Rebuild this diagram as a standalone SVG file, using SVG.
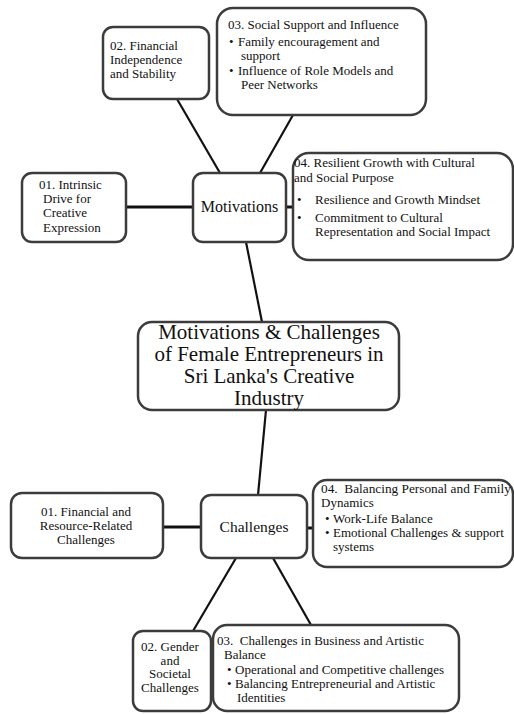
<svg xmlns="http://www.w3.org/2000/svg" width="514" height="714" viewBox="0 0 514 714">
<style>
.box{fill:#fff;stroke:#3c3c3c;stroke-width:2.5}
.t{font-size:13px;fill:#111}
.c{text-anchor:middle}
.big{font-size:21px}
.mid{font-size:16px}
.con line{stroke:#111;stroke-width:2.2}
.con .h{stroke-width:3}
</style>
<rect width="514" height="714" fill="#fff"/>
<g class="con" id="connectors">
<line x1="177" y1="99" x2="220" y2="173"/>
<line x1="293" y1="115" x2="260" y2="173"/>
<line class="h" x1="126" y1="207" x2="193" y2="207"/>
<line class="h" x1="286" y1="207" x2="293" y2="207"/>
<line x1="246" y1="242" x2="262" y2="322"/>
<line x1="266" y1="410" x2="258" y2="495"/>
<line class="h" x1="163" y1="527" x2="201" y2="527"/>
<line class="h" x1="307" y1="528" x2="313" y2="528"/>
<line x1="236" y1="558" x2="193" y2="631"/>
<line x1="273" y1="558" x2="311" y2="625"/>
</g>
<g font-family="Liberation Serif, Times New Roman, serif">
<g id="m02">
<rect class="box" x="103" y="27" width="106" height="72" rx="10"/>
<text class="t" x="110" y="50">02. Financial</text>
<text class="t" x="110" y="64">Independence</text>
<text class="t" x="110" y="78">and Stability</text>
</g>
<g id="m03">
<rect class="box" x="217" y="8" width="209" height="107" rx="16"/>
<text class="t" x="228" y="29">03. Social Support and Influence</text>
<text class="t" x="229" y="46">•</text>
<text class="t" x="238" y="46">Family encouragement and</text>
<text class="t" x="241" y="60">support</text>
<text class="t" x="229" y="75">•</text>
<text class="t" x="238" y="75">Influence of Role Models and</text>
<text class="t" x="241" y="89">Peer Networks</text>
</g>
<g id="m01">
<rect class="box" x="22" y="173" width="104" height="69" rx="10"/>
<text class="t" x="39" y="189">01. Intrinsic</text>
<text class="t" x="43" y="203">Drive for</text>
<text class="t" x="43" y="217">Creative</text>
<text class="t" x="43" y="232">Expression</text>
</g>
<g id="motivations">
<rect class="box" x="193" y="173" width="93" height="69" rx="10"/>
<text class="t mid c" x="239.5" y="212">Motivations</text>
</g>
<g id="m04">
<rect class="box" x="293" y="153" width="220" height="107" rx="16"/>
<text class="t" x="294" y="167" font-size="13.5">04. Resilient Growth with Cultural</text>
<text class="t" x="294" y="182" font-size="13.5">and Social Purpose</text>
<text class="t" x="297" y="204">•</text>
<text class="t" x="315" y="204">Resilience and Growth Mindset</text>
<text class="t" x="297" y="222">•</text>
<text class="t" x="315" y="222">Commitment to Cultural</text>
<text class="t" x="315" y="236">Representation and Social Impact</text>
</g>
<g id="central">
<rect class="box" x="138" y="322" width="261" height="88" rx="14"/>
<text class="t big c" x="269" y="339">Motivations &amp; Challenges</text>
<text class="t big c" x="269" y="361">of Female Entrepreneurs in</text>
<text class="t big c" x="269" y="383">Sri Lanka's Creative</text>
<text class="t big c" x="269" y="405">Industry</text>
</g>
<g id="c01">
<rect class="box" x="11" y="493" width="152" height="65" rx="11"/>
<text class="t c" x="86" y="516">01. Financial and</text>
<text class="t c" x="86" y="530">Resource-Related</text>
<text class="t c" x="86" y="544">Challenges</text>
</g>
<g id="challenges">
<rect class="box" x="201" y="495" width="106" height="63" rx="10"/>
<text class="t c" x="254" y="532" style="font-size:15.5px">Challenges</text>
</g>
<g id="c04">
<rect class="box" x="313" y="480" width="200" height="87" rx="14"/>
<text class="t" x="321" y="493" style="font-size:13.3px">04.&#160; Balancing Personal and Family</text>
<text class="t" x="321" y="507">Dynamics</text>
<text class="t" x="325" y="523">•</text>
<text class="t" x="333" y="523">Work-Life Balance</text>
<text class="t" x="325" y="537">•</text>
<text class="t" x="333" y="537">Emotional Challenges &amp; support</text>
<text class="t" x="333" y="551">systems</text>
</g>
<g id="c02">
<rect class="box" x="133" y="631" width="78" height="80" rx="10"/>
<text class="t c" x="170" y="651">02. Gender</text>
<text class="t c" x="170" y="664.5">and</text>
<text class="t c" x="170" y="678">Societal</text>
<text class="t c" x="170" y="692">Challenges</text>
</g>
<g id="c03">
<rect class="box" x="213" y="625" width="246" height="86" rx="14"/>
<text class="t" x="217" y="645">03.&#160; Challenges in Business and Artistic</text>
<text class="t" x="224" y="659">Balance</text>
<text class="t" x="227" y="674">•</text>
<text class="t" x="235" y="674">Operational and Competitive challenges</text>
<text class="t" x="227" y="688">•</text>
<text class="t" x="235" y="688">Balancing Entrepreneurial and Artistic</text>
<text class="t" x="237" y="702">Identities</text>
</g>
</g>
</svg>
